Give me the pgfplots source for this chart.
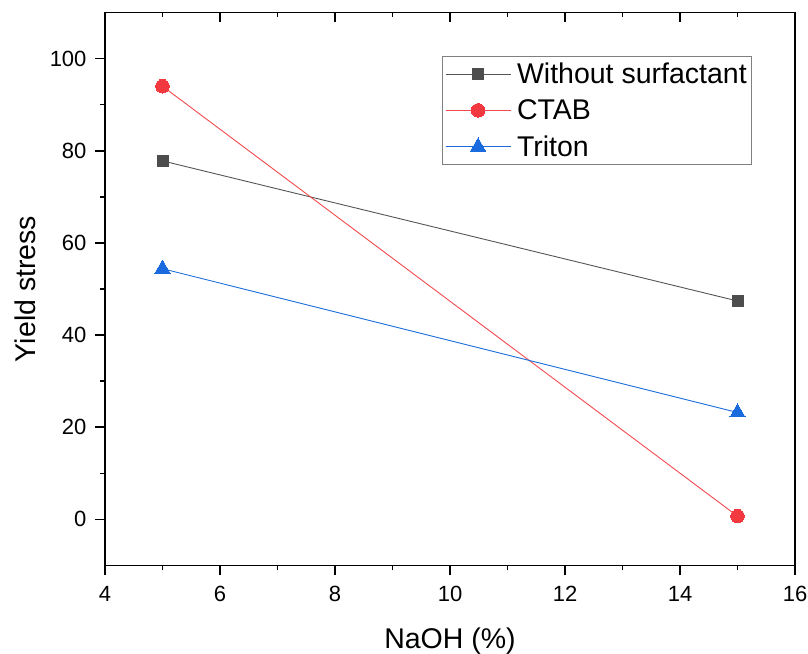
\documentclass[border=0pt]{standalone}
\usepackage{pgfplots}
\pgfplotsset{compat=1.18}
\usepackage{fontspec}
\setmainfont{Liberation Sans}
\definecolor{sgray}{HTML}{4D4D4D}
\definecolor{lgray}{HTML}{555555}
\definecolor{sred}{HTML}{F2393F}
\definecolor{lred}{HTML}{F24A50}
\definecolor{sblue}{HTML}{1A6BDD}
\begin{document}
\begin{tikzpicture}[x=1pt,y=1pt]
\useasboundingbox (0,0) rectangle (808,653);
\begin{axis}[
  at={(105pt,87.5pt)}, anchor=south west,
  width=690pt, height=553pt, scale only axis,
  xmin=4, xmax=16, ymin=-10, ymax=110,
  xtick={4,6,...,16}, ytick={0,20,...,100},
  minor x tick num=1, minor y tick num=1,
  xtick pos=bottom, ytick pos=left,
  tick align=outside,
  major tick length=10pt, minor tick length=5pt,
  axis line style={line width=1.6pt},
  every tick/.style={line width=1.6pt, black},
  ticklabel style={font=\fontsize{22}{26}\selectfont},
  xticklabel style={yshift=-7pt},
  yticklabel style={xshift=-5pt},
  /pgf/number format/assume math mode=true,
  xlabel={NaOH (\%)}, ylabel={Yield stress},
  label style={font=\fontsize{28.5}{32}\selectfont},
  xlabel style={at={(axis description cs:0.5,-0.136)}, anchor=center},
  ylabel style={at={(axis description cs:-0.116,0.5)}, anchor=center},
  legend style={at={(0.488,0.922)}, anchor=north west, draw=gray, line width=0.8pt,
    font=\fontsize{28.5}{31}\selectfont, inner xsep=3pt, inner ysep=5pt, row sep=10.5pt,
    nodes={inner sep=2pt}},
  legend cell align=left,
  legend image code/.code={\draw[mark repeat=2,mark phase=2,#1] plot coordinates {(0pt,0pt)(32.5pt,0pt)(65pt,0pt)}; \path (69pt,0pt);},
]
\addplot[lgray, line width=0.9pt, mark=square*, mark size=5.5pt, mark options={fill=sgray, draw=sgray, line width=0pt}]
  coordinates {(5,77.8) (15,47.4)};
\addlegendentry{Without surfactant}
\addplot[lred, line width=0.9pt, mark=*, mark size=6.8pt, mark options={fill=sred, draw=sred, line width=0pt}]
  coordinates {(5,94.0) (15,0.7)};
\addlegendentry{CTAB}
\addplot[sblue, line width=0.9pt, mark=triangle*, mark size=8.7pt, mark options={fill=sblue, draw=sblue, line width=0pt}]
  coordinates {(5,54.4) (15,23.2)};
\addlegendentry{Triton}
\end{axis}
\begin{axis}[
  at={(105pt,87.5pt)}, anchor=south west,
  width=690pt, height=553pt, scale only axis,
  xmin=4, xmax=16, ymin=-10, ymax=110,
  hide y axis, axis x line*=top,
  xtick={4,6,...,16}, minor x tick num=1,
  xticklabels={}, tick align=inside,
  major tick length=10pt, minor tick length=5pt,
  axis line style={line width=1.6pt},
  every tick/.style={line width=1.6pt, black},
]
\end{axis}
\end{tikzpicture}
\end{document}
